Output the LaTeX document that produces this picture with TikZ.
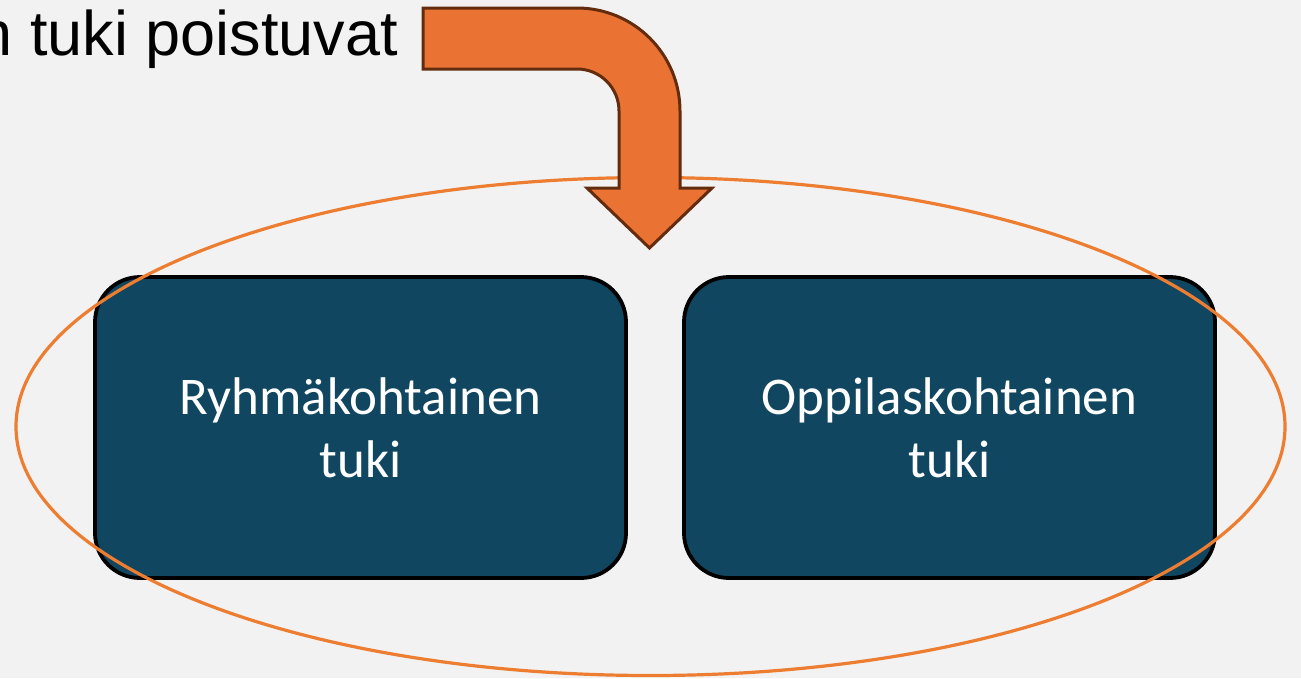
\documentclass[tikz,border=0pt]{standalone}
\usepackage{fontspec}
\setmainfont{Carlito}
\newfontfamily\topfont{Liberation Sans}
\usetikzlibrary{shapes.geometric}
\definecolor{bg}{HTML}{F2F2F2}
\definecolor{boxblue}{HTML}{114661}
\definecolor{orng}{HTML}{ED7D31}
\definecolor{arrfill}{HTML}{EA7232}
\definecolor{arrline}{HTML}{632C0E}
\tikzset{
  bluebox/.style={draw=black, line width=3.8pt, fill=boxblue, rounded corners=45pt,
    minimum width=531pt, minimum height=301pt, text=white, align=center,
    font=\fontsize{53}{63}\selectfont},
  ring/.style={draw=orng, line width=3.2pt, ellipse, minimum width=1269pt, minimum height=498pt},
  bentarrow/.style={fill=arrfill, draw=arrline, line width=3pt, line join=miter}
}
\begin{document}
\begin{tikzpicture}[x=1pt,y=1pt]
\fill[bg] (0,0) rectangle (1301,-678);
\useasboundingbox (0,0) rectangle (1301,-678);
\node[anchor=base east, inner sep=0pt, font=\topfont\fontsize{63}{72}\selectfont] (top) at (398,-55) {n tuki poistuvat};
\node[bluebox] (left) at (360.5,-427.5) {Ryhmäkohtainen\\tuki};
\node[bluebox] (right) at (949.5,-427.5) {Oppilaskohtainen\\tuki};
\node[ring] (oval) at (650.5,-426.5) {};
\draw[bentarrow] (423,-8) -- (577,-8) arc[start angle=90,end angle=0,radius=103]
  -- (680,-188) -- (712,-188) -- (649.5,-248) -- (587,-188) -- (619,-188)
  -- (619,-111) arc[start angle=0,end angle=90,radius=42] -- (423,-69) -- cycle;
\end{tikzpicture}
\end{document}
